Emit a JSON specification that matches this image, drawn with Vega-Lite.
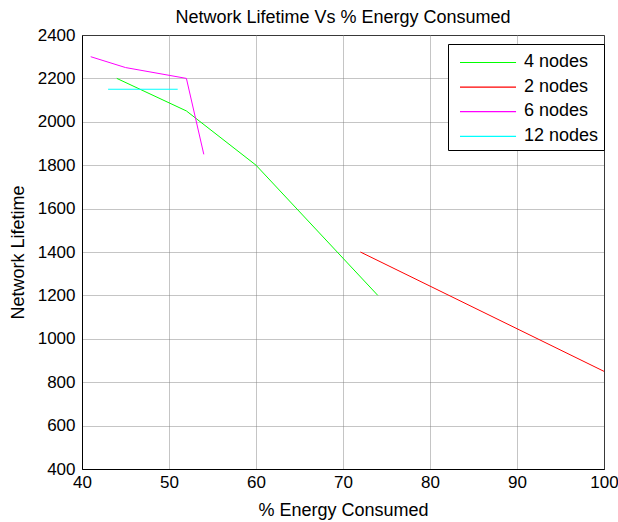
{
  "$schema": "https://vega.github.io/schema/vega-lite/v6.json",
  "autosize": "none",
  "padding": {"left": 82, "top": 35, "right": 14, "bottom": 53},
  "width": 522,
  "height": 434,
  "background": "white",
  "config": {
    "font": "Liberation Sans",
    "view": {"stroke": "black", "strokeWidth": 1}
  },
  "title": {
    "text": "Network Lifetime Vs % Energy Consumed",
    "fontSize": 18,
    "fontWeight": "normal",
    "font": "Liberation Sans",
    "color": "black",
    "offset": -1
  },
  "data": {
    "values": [
      {"series": "4 nodes", "order": 1, "energy": 44, "lifetime": 2200},
      {"series": "4 nodes", "order": 2, "energy": 52, "lifetime": 2050},
      {"series": "4 nodes", "order": 3, "energy": 60, "lifetime": 1800},
      {"series": "4 nodes", "order": 4, "energy": 74, "lifetime": 1200},
      {"series": "2 nodes", "order": 1, "energy": 72, "lifetime": 1400},
      {"series": "2 nodes", "order": 2, "energy": 100, "lifetime": 850},
      {"series": "6 nodes", "order": 1, "energy": 41, "lifetime": 2300},
      {"series": "6 nodes", "order": 2, "energy": 45, "lifetime": 2250},
      {"series": "6 nodes", "order": 3, "energy": 52, "lifetime": 2200},
      {"series": "6 nodes", "order": 4, "energy": 54, "lifetime": 1850},
      {"series": "12 nodes", "order": 1, "energy": 43, "lifetime": 2150},
      {"series": "12 nodes", "order": 2, "energy": 51, "lifetime": 2150}
    ]
  },
  "mark": {"type": "line", "strokeWidth": 1, "clip": true},
  "encoding": {
    "x": {
      "field": "energy",
      "type": "quantitative",
      "scale": {"domain": [40, 100], "nice": false, "zero": false},
      "axis": {
        "title": "% Energy Consumed",
        "values": [40, 50, 60, 70, 80, 90, 100],
        "format": "d",
        "labelFlush": false,
        "labelOverlap": false,
        "grid": true,
        "gridColor": "#7f7f7f",
        "gridDash": [1, 1],
        "gridOpacity": 0.9,
        "ticks": false,
        "domainColor": "black",
        "labelFontSize": 17,
        "labelColor": "black",
        "labelPadding": 5,
        "titleFontSize": 18,
        "titleFontWeight": "normal",
        "titleColor": "black",
        "titlePadding": 11
      }
    },
    "y": {
      "field": "lifetime",
      "type": "quantitative",
      "scale": {"domain": [400, 2400], "nice": false, "zero": false},
      "axis": {
        "title": "Network Lifetime",
        "values": [400, 600, 800, 1000, 1200, 1400, 1600, 1800, 2000, 2200, 2400],
        "format": "d",
        "labelFlush": false,
        "labelOverlap": false,
        "grid": true,
        "gridColor": "#7f7f7f",
        "gridDash": [1, 1],
        "gridOpacity": 0.9,
        "ticks": false,
        "domainColor": "black",
        "labelFontSize": 17,
        "labelColor": "black",
        "labelPadding": 7,
        "titleFontSize": 18,
        "titleFontWeight": "normal",
        "titleColor": "black",
        "titlePadding": 10
      }
    },
    "color": {
      "field": "series",
      "type": "nominal",
      "scale": {
        "domain": ["4 nodes", "2 nodes", "6 nodes", "12 nodes"],
        "range": ["#00ff00", "#ff0000", "#ff00ff", "#00ffff"]
      },
      "legend": {
        "title": null,
        "orient": "none",
        "legendX": 366,
        "legendY": 9,
        "symbolType": "M -0.5 0.04 L 4.17 0.04",
        "symbolSize": 576,
        "symbolStrokeWidth": 1.2,
        "symbolOpacity": 1,
        "labelFontSize": 18,
        "labelColor": "black",
        "labelOffset": 45,
        "rowPadding": 2.6,
        "padding": 5,
        "fillColor": "white",
        "strokeColor": "black"
      }
    },
    "order": {"field": "order", "type": "quantitative"}
  }
}
